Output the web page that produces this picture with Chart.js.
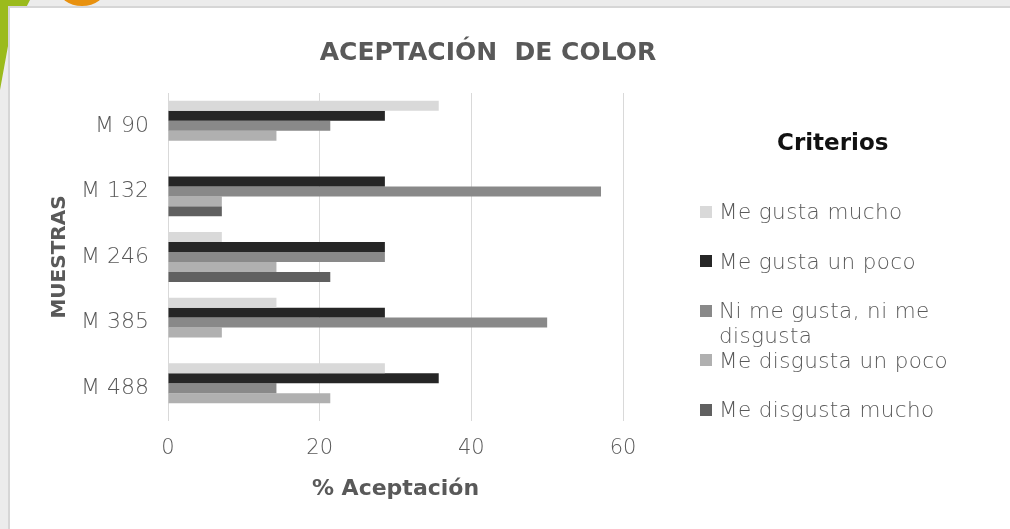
<!DOCTYPE html>
<html>
<head>
<meta charset="utf-8">
<script src="https://cdn.jsdelivr.net/npm/chart.js@4"></script>
<style>
  html, body { margin: 0; padding: 0; }
  body { width: 1010px; height: 529px; background: #ececec; position: relative; overflow: hidden; font-family: "DejaVu Sans", sans-serif; }
  #greenBar { position: absolute; left: 0; top: 0; width: 30px; height: 90px; background: #9bbb1c; clip-path: polygon(0 0, 100% 0, 30% 45%, 0 100%); }
  #orange { position: absolute; left: 58px; top: -30px; width: 48px; height: 36px; background: #e8910f; border-radius: 0 0 50% 50%; }
  #panel { position: absolute; left: 8px; top: 6px; right: 0; bottom: 0; background: #fff; border-top: 2px solid #d6d6d6; border-left: 2px solid #d6d6d6; }
  #wrap { position: absolute; left: 0; top: 0; width: 976px; height: 529px; }
  #title { position: absolute; left: 288px; width: 400px; top: 36px; text-align: center; margin: 0; font: bold 25px "DejaVu Sans", sans-serif; line-height: 32px; color: #595959; white-space: pre; }
  #legend { position: absolute; left: 700px; top: 127px; width: 300px; }
  #legend h3 { margin: 0 0 41px 0; padding-left: 77px; font: bold 23px "DejaVu Sans", sans-serif; line-height: 31px; color: #111; }
  .item { position: relative; height: 49.5px; font: 200 21.5px "DejaVu Sans", sans-serif; letter-spacing: 0.4px; color: #595959; }
  .item span.box { position: absolute; left: 0; top: 6.5px; width: 12px; height: 12px; }
  .item span.txt { position: absolute; left: 19px; top: 0; line-height: 25px; white-space: nowrap; }
</style>
</head>
<body>
<div id="greenBar"></div>
<div id="orange"></div>
<div id="panel"></div>
<div id="wrap"><canvas id="chart"></canvas></div>
<h2 id="title">ACEPTACIÓN  DE COLOR</h2>
<div id="legend"><h3>Criterios</h3></div>
<script>
const muestras = ['M 90', 'M 132', 'M 246', 'M 385', 'M 488'];
const criterios = ['Me gusta mucho', 'Me gusta un poco', 'Ni me gusta, ni me\ndisgusta', 'Me disgusta un poco', 'Me disgusta mucho'];
const colores = ['#d9d9d9', '#262626', '#898989', '#b0b0b0', '#606060'];

const meGustaMucho = [35.7, 0, 7.1, 14.3, 28.6];
const meGustaUnPoco = [28.6, 28.6, 28.6, 28.6, 35.7];
const niMeGusta = [21.4, 57.1, 28.6, 50, 14.3];
const meDisgustaUnPoco = [14.3, 7.1, 14.3, 7.1, 21.4];
const meDisgustaMucho = [0, 7.1, 21.4, 0, 0];

const xTicks = [0, 20, 40, 60];

const series = [meGustaMucho, meGustaUnPoco, niMeGusta, meDisgustaUnPoco, meDisgustaMucho];

// leyenda en html (el texto largo se parte en dos lineas)
const legend = document.getElementById('legend');
criterios.forEach((c, i) => {
  const div = document.createElement('div');
  div.className = 'item';
  div.innerHTML = `<span class="box" style="background:${colores[i]}"></span><span class="txt">${c.replace('\n', '<br>')}</span>`;
  legend.appendChild(div);
});

const txt = '#595959';

new Chart(document.getElementById('chart'), {
  type: 'bar',
  data: {
    labels: muestras,
    datasets: series.map((d, i) => ({
      label: criterios[i].replace('\n', ' '),
      data: d,
      backgroundColor: colores[i],
      borderWidth: 0,
      categoryPercentage: 0.76,
      barPercentage: 1
    }))
  },
  options: {
    indexAxis: 'y',
    responsive: true,
    maintainAspectRatio: false,
    animation: false,
    layout: { padding: { top: 93, left: 48, right: 353, bottom: 23 } },
    plugins: {
      legend: { display: false },
      tooltip: { enabled: false }
    },
    scales: {
      x: {
        min: 0,
        max: 60,
        afterBuildTicks: (axis) => { axis.ticks = xTicks.map(v => ({ value: v })); },
        afterFit: (axis) => { axis.height = 85; },
        grid: { color: '#d9d9d9', drawTicks: false },
        border: { display: false },
        ticks: { color: txt, padding: 15, font: { family: 'DejaVu Sans', size: 21, weight: 200 } },
        title: {
          display: true,
          text: '% Aceptación',
          color: txt,
          font: { family: 'DejaVu Sans', size: 22, weight: 'bold' },
          padding: { top: 12, bottom: 4 }
        }
      },
      y: {
        afterFit: (axis) => { axis.width = 120; },
        grid: { display: false },
        border: { display: false },
        ticks: { color: txt, padding: 11, font: { family: 'DejaVu Sans', size: 22, weight: 200 } },
        title: {
          display: true,
          text: 'MUESTRAS',
          color: txt,
          font: { family: 'DejaVu Sans', size: 20, weight: 'bold' },
          padding: { top: 0, bottom: 0 }
        }
      }
    }
  }
});
</script>
</body>
</html>
